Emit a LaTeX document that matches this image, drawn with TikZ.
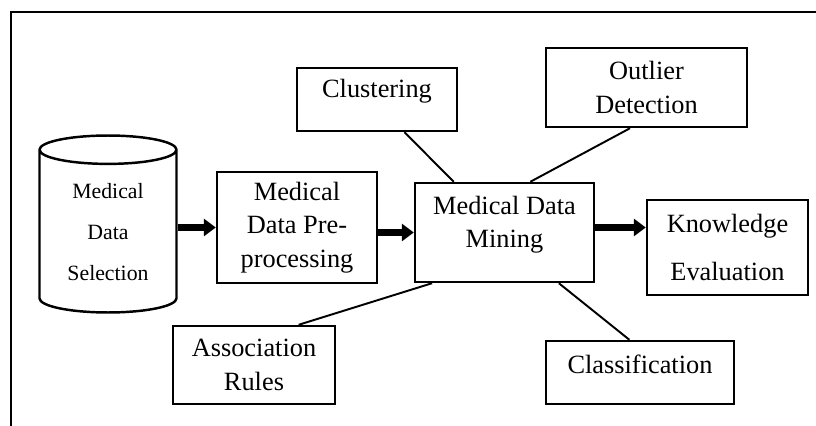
\documentclass[tikz,border=0pt]{standalone}
\usepackage{fontspec}
\setmainfont{Liberation Serif}
\usetikzlibrary{shapes.geometric,arrows.meta,positioning}

\begin{document}
\begin{tikzpicture}[x=0.02cm, y=-0.02cm,
    box/.style={rectangle, draw, line width=1.4pt, align=center, inner sep=0pt,
      font=\fontsize{15}{19}\selectfont},
    txt/.style={align=center, inner sep=0pt, font=\fontsize{15}{19}\selectfont},
    db/.style={cylinder, shape border rotate=90, aspect=0.35, draw, line width=1.4pt,
      align=center, inner sep=0pt, minimum width=2.74cm, minimum height=3.54cm,
      font=\fontsize{12.4}{23.3}\selectfont},
    link/.style={line width=1.1pt},
    flow/.style={-{Triangle[length=0.24cm, width=0.34cm]}, line width=0.14cm}]

    \useasboundingbox (0,0) rectangle (816,426);
    \draw[line width=1.3pt] (11,426) |- (816,12);

    % pipeline
    \node[db, anchor=shape center] (sel) at (108,224) {Medical\\Data\\Selection};
    \node[box, minimum width=3.2cm, minimum height=2.22cm] (prep) at (297,227.5) {Medical\\Data Pre-\\processing};
    \node[box, minimum width=3.58cm, minimum height=1.98cm] (mine) at (504.5,232.5) {};
    \node[txt] (mine-t) at ([yshift=0.16cm]mine.center) {Medical Data\\Mining};
    \node[box, minimum width=3.22cm, minimum height=1.9cm] (know) at (727.5,247.5) {Knowledge\\[8pt]Evaluation};

    % tasks
    \node[box, minimum width=3.2cm, minimum height=1.26cm] (clus) at (377,99.5) {};
    \node[txt] (clus-t) at ([yshift=0.16cm]clus.center) {Clustering};
    \node[box, minimum width=4.02cm, minimum height=1.58cm] (outl) at (646.5,87.5) {Outlier\\Detection};
    \node[box, minimum width=3.24cm, minimum height=1.56cm] (assoc) at (254,365) {Association\\Rules};
    \node[box, minimum width=3.76cm, minimum height=1.26cm] (clas) at (640,372.5) {};
    \node[txt] (clas-t) at ([yshift=0.16cm]clas.center) {Classification};

    \draw[flow] (prep.west -| sel.east) -- (prep.west);
    \draw[flow] (mine.west -| prep.east) -- (mine.west);
    \draw[flow] ([yshift=0.1cm]mine.east) -- ([yshift=0.1cm]mine.east -| know.west);

    \draw[link] (clus.-50) -- (mine.135);
    \draw[link] (outl.-112) -- (mine.63);
    \draw[link] (mine.-145) -- (assoc.42);
    \draw[link] (mine.-43) -- (clas.108);
\end{tikzpicture}
\end{document}
